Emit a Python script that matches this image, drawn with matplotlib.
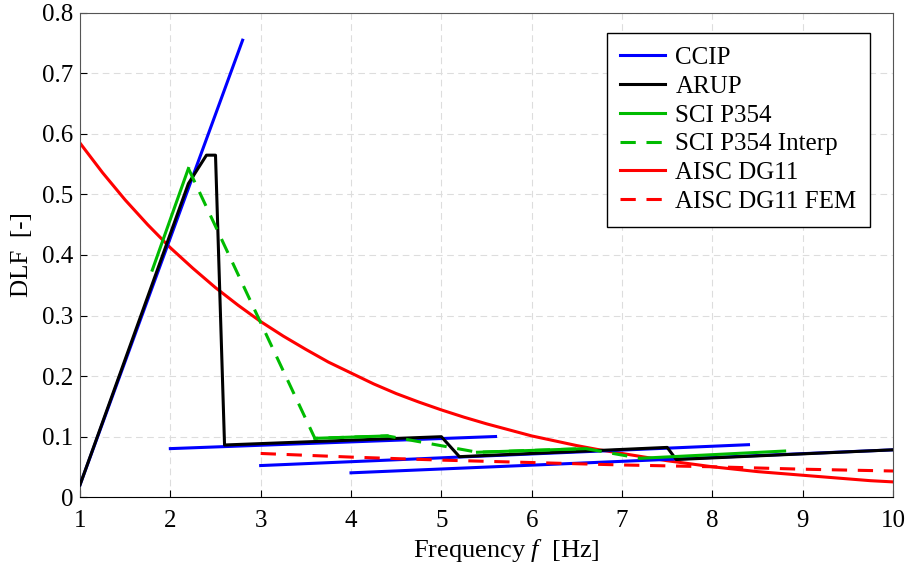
import numpy as np
import matplotlib
matplotlib.use("Agg")
import matplotlib.pyplot as plt

# CCIP: first harmonic line plus higher-harmonic ranges
ccip_f1 = [1.0, 2.8]
ccip_d1 = [0.02, 0.755]
ccip_f2 = [2.0, 5.6]
ccip_d2 = [0.080, 0.100]
ccip_f3 = [3.0, 8.4]
ccip_d3 = [0.052, 0.0865]
ccip_f4 = [4.0, 10.0]
ccip_d4 = [0.040, 0.078]

# ARUP
arup_f = [1.0, 2.2, 2.4, 2.5, 2.6, 5.0, 5.2, 7.5, 7.6, 10.0]
arup_d = [0.02, 0.518, 0.565, 0.565, 0.086, 0.0997, 0.0667, 0.082, 0.062, 0.078]

# SCI P354 harmonic ranges
sci_ranges_f = [[1.8, 2.2], [3.6, 4.4], [5.4, 6.6], [7.2, 8.8]]
sci_ranges_d = [[0.375, 0.543], [0.097, 0.101], [0.074, 0.080], [0.064, 0.076]]
# SCI P354 interpolation between ranges
sci_int_f = [2.2, 3.6, 4.4, 5.4, 6.6, 7.2]
sci_int_d = [0.543, 0.097, 0.101, 0.074, 0.080, 0.064]

# AISC DG11
aisc_f = [1.0, 1.25, 1.5, 1.75, 2.0, 2.25, 2.5, 2.75, 3.0, 3.25, 3.5, 3.75,
          4.0, 4.25, 4.5, 4.75, 5.0, 5.25, 5.5, 5.75, 6.0, 6.25, 6.5, 6.75,
          7.0, 7.25, 7.5, 7.75, 8.0, 8.25, 8.5, 8.75, 9.0, 9.25, 9.5, 9.75, 10.0]
aisc_d = [0.585, 0.536, 0.491, 0.450, 0.412, 0.378, 0.346, 0.317, 0.290, 0.266,
          0.244, 0.223, 0.205, 0.187, 0.171, 0.157, 0.144, 0.132, 0.121, 0.111,
          0.101, 0.093, 0.085, 0.078, 0.072, 0.066, 0.060, 0.055, 0.050, 0.046,
          0.042, 0.039, 0.036, 0.033, 0.030, 0.027, 0.025]

# AISC DG11 FEM
fem_f = [3.0, 4.0, 5.0, 6.0, 7.0, 8.0, 9.0, 10.0]
fem_d = [0.072, 0.066, 0.061, 0.057, 0.053, 0.050, 0.046, 0.043]

x_ticks = [1, 2, 3, 4, 5, 6, 7, 8, 9, 10]
y_ticks = [0, 0.1, 0.2, 0.3, 0.4, 0.5, 0.6, 0.7, 0.8]
y_ticklabels = ["0", "0.1", "0.2", "0.3", "0.4", "0.5", "0.6", "0.7", "0.8"]

plt.rcParams["font.family"] = ["Liberation Serif", "DejaVu Serif"]
plt.rcParams["mathtext.fontset"] = "custom"
plt.rcParams["mathtext.it"] = "Liberation Serif:italic"
plt.rcParams["mathtext.rm"] = "Liberation Serif"

blue = "#0000ff"
green = "#00bb00"
red = "#ff0000"
lw = 2.2
dash = (5, 3.5)
fs = 18

fig = plt.figure(figsize=(9.07, 5.74), dpi=100)
ax = fig.add_axes([0.0882, 0.1341, 0.8964, 0.8433])

ax.plot(aisc_f, aisc_d, color=red, lw=lw, zorder=2, label="AISC DG11")

ax.plot(ccip_f1, ccip_d1, color=blue, lw=lw, zorder=3, label="CCIP")
for f, d in [(ccip_f2, ccip_d2), (ccip_f3, ccip_d3), (ccip_f4, ccip_d4)]:
    ax.plot(f, d, color=blue, lw=lw, zorder=3)

ax.plot(arup_f, arup_d, color="black", lw=lw, zorder=4, label="ARUP")

for i, (f, d) in enumerate(zip(sci_ranges_f, sci_ranges_d)):
    ax.plot(f, d, color=green, lw=lw, zorder=5, label="SCI P354" if i == 0 else None)
ax.plot(sci_int_f, sci_int_d, color=green, lw=lw, ls="--", dashes=dash, zorder=5,
        label="SCI P354 Interp")

ax.plot(fem_f, fem_d, color=red, lw=lw, ls="--", dashes=dash, zorder=3,
        label="AISC DG11 FEM")

ax.set_xlim(1, 10)
ax.set_ylim(0, 0.8)
ax.set_xticks(x_ticks)
ax.set_yticks(y_ticks)
ax.set_yticklabels(y_ticklabels)
ax.tick_params(direction="in", length=5, labelsize=fs, colors="black")
ax.tick_params(axis="x", pad=9)
ax.tick_params(axis="y", pad=5)
ax.grid(True, color="#dddddd", ls=(0, (6, 4)), lw=0.8)
ax.set_axisbelow(True)
for side in ["top", "right", "left"]:
    ax.spines[side].set_color("#555555")
ax.spines["bottom"].set_color("black")

ax.set_xlabel("Frequency $f$  [Hz]", fontsize=19)
ax.xaxis.set_label_coords(0.525, -0.082)
ax.set_ylabel("DLF  [-]", fontsize=fs, labelpad=6)

handles, labels = ax.get_legend_handles_labels()
order = ["CCIP", "ARUP", "SCI P354", "SCI P354 Interp", "AISC DG11", "AISC DG11 FEM"]
hmap = dict(zip(labels, handles))
leg = ax.legend([hmap[k] for k in order], order, loc="upper right",
                bbox_to_anchor=(0.972, 0.9587), borderaxespad=0, fontsize=fs,
                frameon=True, fancybox=False, edgecolor="black", framealpha=1,
                handlelength=1.8, handletextpad=0.4, labelspacing=0.25,
                borderpad=0.55)
leg.get_frame().set_linewidth(1.0)

fig.savefig("out.png", dpi=100)
